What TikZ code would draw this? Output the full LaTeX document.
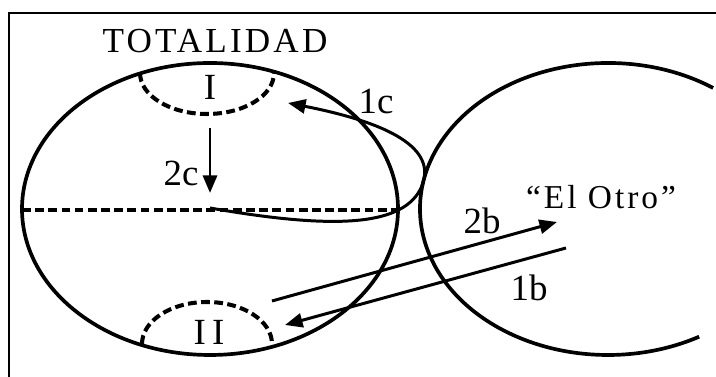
\documentclass[tikz,border=0pt]{standalone}
\usepackage{fontspec}
\setmainfont{Liberation Serif}
\newfontfamily\wide[LetterSpace=9]{Liberation Serif}
\usepackage{tikz}
\usetikzlibrary{arrows.meta}

\begin{document}
\begin{tikzpicture}[x=0.02cm,y=0.02cm]
        \tikzstyle{every node}=[inner sep=0pt, font=\fontsize{21}{21}\selectfont]
        \tikzstyle{rim}=[line width=2.1pt]
        \tikzstyle{dashline}=[line width=2.3pt, dash pattern=on 5pt off 2.5pt]
        \tikzstyle{arr}=[line width=1.7pt, -{Triangle[length=10pt,width=8pt]}]
        \useasboundingbox (0,0) rectangle (716,377);
        % frame
        \draw[line width=0.8pt] (9,0) -- (9,364) -- (716,364);
        % the two spheres
        \draw[rim] (210,168) ellipse [x radius=188, y radius=146];
        \draw[rim] (608,168) ++(56:188 and 146) arc [start angle=56, end angle=299, x radius=188, y radius=146];
        \node[font=\wide\fontsize{20}{20}\selectfont] (tot) at (215,336) {TOTALIDAD};
        % zones I and II
        \draw[dashline] (140,304) arc [start angle=180, end angle=360, x radius=67, y radius=41];
        \draw[dashline] (142,33) arc [start angle=180, end angle=0, x radius=65, y radius=42];
        \node (I) at (210,290) {I};
        \node (II) at (209,45) {I\,I};
        % the cut
        \coordinate (w) at (22,167);
        \coordinate (e) at (396,167);
        \draw[dashline] (w) -- (e);
        % arrows
        \coordinate (c0) at (210,249);
        \coordinate (c1) at (210,184);
        \draw[arr] (c0) -- (c1);
        \node (2c) at (181,204) {2c};
        \coordinate (m) at (210,169);
        \coordinate (t1) at (288,274);
        \draw[arr] (m) .. controls (330,148) and (400,150) .. (420,187)
            .. controls (437,220) and (410,250) .. (t1);
        \node (1c) at (376,275) {1c};
        \coordinate (b0) at (272,76);
        \coordinate (b1) at (557,155);
        \draw[arr] (b0) -- (b1);
        \node (2b) at (482,156) {2b};
        \coordinate (a0) at (566,129);
        \coordinate (a1) at (285,52);
        \draw[arr] (a0) -- (a1);
        \node (1b) at (529,89) {1b};
        \node[font=\wide\fontsize{19}{19}\selectfont] (otro) at (601,180) {“El Otro”};
    \end{tikzpicture}
\end{document}
